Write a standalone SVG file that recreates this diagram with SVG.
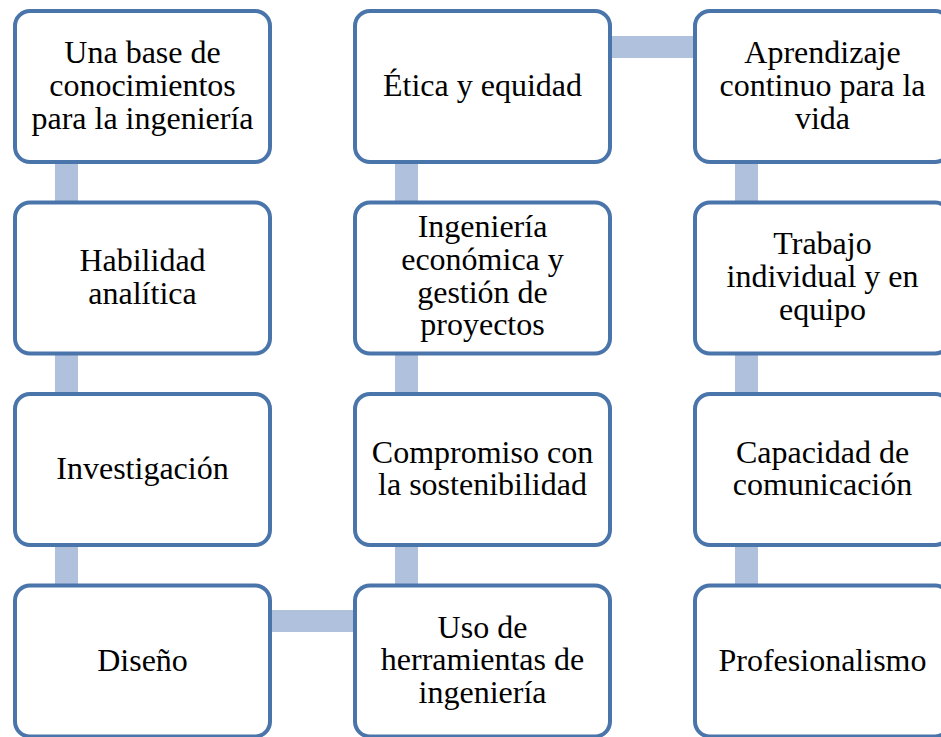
<svg xmlns="http://www.w3.org/2000/svg" width="941" height="737" viewBox="0 0 941 737">
<style>
.box{fill:#ffffff;stroke:#4a75ab;stroke-width:4}
.con{fill:#afc1dc}
.t{font-family:"Liberation Serif","Times New Roman",serif;font-size:32px;fill:#000;text-anchor:middle}
</style>
<rect width="941" height="737" fill="#ffffff"/>
<g id="connectors">
<rect class="con" x="55" y="160" width="23" height="45"/>
<rect class="con" x="55" y="352" width="23" height="45"/>
<rect class="con" x="55" y="543" width="23" height="45"/>
<rect class="con" x="395" y="160" width="23" height="45"/>
<rect class="con" x="395" y="352" width="23" height="45"/>
<rect class="con" x="395" y="543" width="23" height="45"/>
<rect class="con" x="735" y="160" width="23" height="45"/>
<rect class="con" x="735" y="352" width="23" height="45"/>
<rect class="con" x="735" y="543" width="23" height="45"/>
<rect class="con" x="268" y="610" width="90" height="22"/>
<rect class="con" x="608" y="36" width="90" height="22"/>
</g>
<g id="n1"><rect class="box" x="15" y="11" width="255" height="151" rx="15"/><text class="t"><tspan x="142.5" y="63">Una base de</tspan><tspan x="142.5" y="95.8">conocimientos</tspan><tspan x="142.5" y="128.6">para la ingeniería</tspan></text></g>
<g id="n2"><rect class="box" x="15" y="202.5" width="255" height="151" rx="15"/><text class="t"><tspan x="142.5" y="271">Habilidad</tspan><tspan x="142.5" y="303.8">analítica</tspan></text></g>
<g id="n3"><rect class="box" x="15" y="394" width="255" height="151" rx="15"/><text class="t" x="142.5" y="479">Investigación</text></g>
<g id="n4"><rect class="box" x="15" y="585.5" width="255" height="151" rx="15"/><text class="t" x="142.5" y="670.5">Diseño</text></g>
<g id="n5"><rect class="box" x="355" y="11" width="255" height="151" rx="15"/><text class="t" x="482.5" y="96">Ética y equidad</text></g>
<g id="n6"><rect class="box" x="355" y="202.5" width="255" height="151" rx="15"/><text class="t"><tspan x="482.5" y="237">Ingeniería</tspan><tspan x="482.5" y="269.8">económica y</tspan><tspan x="482.5" y="302.6">gestión de</tspan><tspan x="482.5" y="335.4">proyectos</tspan></text></g>
<g id="n7"><rect class="box" x="355" y="394" width="255" height="151" rx="15"/><text class="t"><tspan x="482.5" y="462.5">Compromiso con</tspan><tspan x="482.5" y="495.3">la sostenibilidad</tspan></text></g>
<g id="n8"><rect class="box" x="355" y="585.5" width="255" height="151" rx="15"/><text class="t"><tspan x="482.5" y="637.5">Uso de</tspan><tspan x="482.5" y="670.3">herramientas de</tspan><tspan x="482.5" y="703.1">ingeniería</tspan></text></g>
<g id="n9"><rect class="box" x="695" y="11" width="255" height="151" rx="15"/><text class="t"><tspan x="822.5" y="63">Aprendizaje</tspan><tspan x="822.5" y="95.8">continuo para la</tspan><tspan x="822.5" y="128.6">vida</tspan></text></g>
<g id="n10"><rect class="box" x="695" y="202.5" width="255" height="151" rx="15"/><text class="t"><tspan x="822.5" y="254">Trabajo</tspan><tspan x="822.5" y="286.8">individual y en</tspan><tspan x="822.5" y="319.6">equipo</tspan></text></g>
<g id="n11"><rect class="box" x="695" y="394" width="255" height="151" rx="15"/><text class="t"><tspan x="822.5" y="462.5">Capacidad de</tspan><tspan x="822.5" y="495.3">comunicación</tspan></text></g>
<g id="n12"><rect class="box" x="695" y="585.5" width="255" height="151" rx="15"/><text class="t" x="822.5" y="670.5">Profesionalismo</text></g>
</svg>
